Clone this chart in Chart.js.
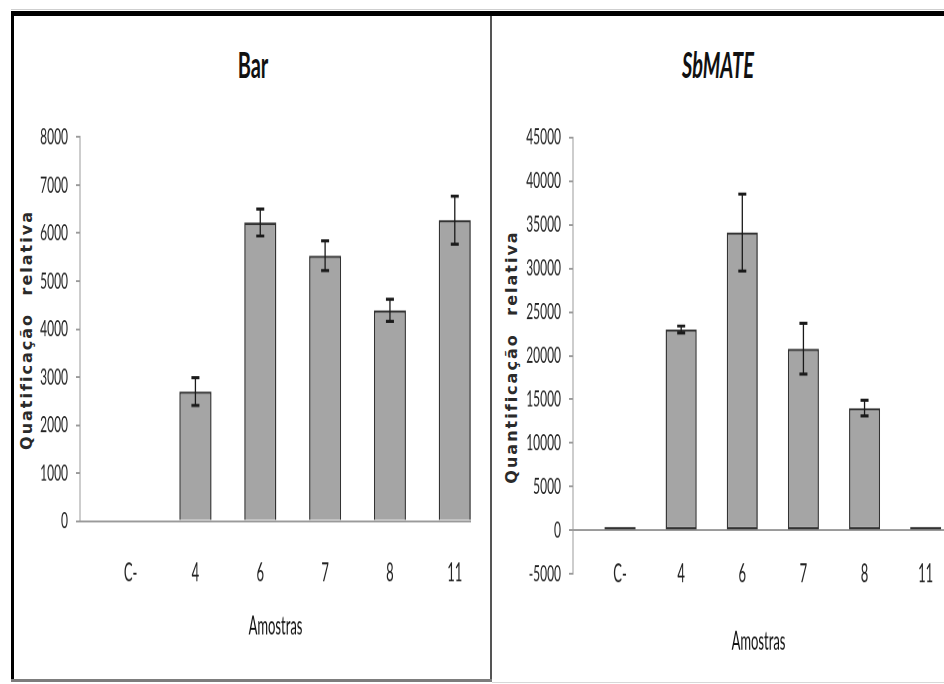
<!DOCTYPE html>
<html>
<head>
<meta charset="utf-8">
<script src="https://cdn.jsdelivr.net/npm/chart.js@4.4.1/dist/chart.umd.min.js"></script>
<style>
  html, body { margin: 0; padding: 0; background: #fff; }
  #page { position: relative; width: 944px; height: 684px; overflow: hidden; background: #fff; }
  .line { position: absolute; }
  .panel { position: absolute; top: 17px; transform: scaleY(1.9); transform-origin: 0 0; }
  .title { position: absolute; font-family: Lato, 'DejaVu Sans', sans-serif; font-weight: 700; font-size: 20px; color: #111;
           transform: translate(-50%, -50%) scaleY(1.85); white-space: nowrap; }
  .ytitle { position: absolute; font-family: 'DejaVu Sans', sans-serif; font-weight: 700; font-size: 16px; color: #2a2a2a;
            letter-spacing: 2px; word-spacing: 10px; white-space: nowrap; transform: translate(-50%, -50%) rotate(-90deg); }
</style>
</head>
<body>
<div id="page">
  <div class="line" style="left:11px;top:9px;width:933px;height:1px;background:#cfcfcf"></div>
  <div class="line" style="left:11px;top:11px;width:933px;height:5px;background:#000"></div>
  <div class="line" style="left:11px;top:11px;width:3px;height:671px;background:#000"></div>
  <div class="line" style="left:490px;top:16px;width:2px;height:666px;background:#555"></div>
  <div class="line" style="left:11px;top:679px;width:481px;height:3px;background:#7d7d7d"></div>
  <div class="line" style="left:492px;top:682px;width:452px;height:1px;background:#d8d8d8"></div>

  <div class="title" style="left:253px;top:63px">Bar</div>
  <div class="title" style="left:718px;top:63px;font-style:italic">SbMATE</div>
  <div class="ytitle" style="left:26px;top:330px">Quatificação relativa</div>
  <div class="ytitle" style="left:511px;top:357px">Quantificação relativa</div>

  <div class="panel" style="left:14px;width:476px;height:348px"><canvas id="chart-bar" width="476" height="348"></canvas></div>
  <div class="panel" style="left:493px;width:451px;height:348px"><canvas id="chart-mate" width="451" height="348"></canvas></div>
</div>
<script>
// amostras (eixo x)
const categories = ['C-', '4', '6', '7', '8', '11'];

// Bar
const barValues = [0, 2700, 6220, 5530, 4390, 6270];
const barErrors = [0, 290, 280, 310, 230, 500];
const barTicks = { min: 0, max: 8000, step: 1000 };

// SbMATE
const mateValues = [400, 23000, 34100, 20800, 14000, 400];
const mateErrors = [0, 400, 4400, 2900, 900, 0];
const mateTicks = { min: -5000, max: 45000, step: 5000 };

const FONT = "Lato, 'DejaVu Sans', sans-serif";
const AXIS_GRAY = '#9a9a9a';

// barras de erro desenhadas com a escala y do gráfico
function errorBarsPlugin(errors) {
  return {
    id: 'errorBars',
    afterDatasetsDraw(chart) {
      const meta = chart.getDatasetMeta(0);
      const y = chart.scales.y;
      const ctx = chart.ctx;
      const data = chart.data.datasets[0].data;
      ctx.save();
      ctx.strokeStyle = '#1a1a1a';
      meta.data.forEach((bar, i) => {
        const e = errors[i];
        if (!e) return;
        const v = data[i].y;
        const top = y.getPixelForValue(v + e);
        const bot = y.getPixelForValue(v - e);
        ctx.lineWidth = 1.3;
        ctx.beginPath();
        ctx.moveTo(bar.x, top);
        ctx.lineTo(bar.x, bot);
        ctx.stroke();
        ctx.lineWidth = 1.6;
        ctx.beginPath();
        ctx.moveTo(bar.x - 4, top); ctx.lineTo(bar.x + 4, top);
        ctx.moveTo(bar.x - 4, bot); ctx.lineTo(bar.x + 4, bot);
        ctx.stroke();
      });
      ctx.restore();
    }
  };
}

function makeChart(id, values, errors, ticks, lay) {
  return new Chart(document.getElementById(id), {
    type: 'bar',
    data: {
      datasets: [{
        data: values.map((v, i) => ({ x: i, y: v })),
        backgroundColor: '#a5a5a5',
        borderColor: '#333',
        borderWidth: 1.3,
        borderSkipped: lay.skip,
        inflateAmount: 0,
        barThickness: lay.barW
      }]
    },
    options: {
      responsive: false,
      animation: false,
      devicePixelRatio: 2,
      layout: { padding: { top: lay.top, right: lay.right, left: 0, bottom: lay.bottom } },
      plugins: { legend: { display: false }, tooltip: { enabled: false } },
      scales: {
        x: {
          type: 'linear',
          position: lay.xPos,
          offset: false,
          min: lay.xMin, max: lay.xMax,
          afterFit: s => { s.height = lay.xH; },
          grid: { display: false, drawTicks: false, offset: false },
          border: { display: false },
          ticks: {
            stepSize: 1, includeBounds: false, padding: lay.xPad,
            color: '#222', font: { family: FONT, size: 13 },
            callback: v => categories[v] ?? ''
          },
          title: {
            display: true, text: 'Amostras', color: '#111',
            font: { family: FONT, size: 13 },
            padding: { top: 0, bottom: lay.tPad }
          }
        },
        y: {
          min: ticks.min, max: ticks.max,
          afterFit: s => { s.width = lay.yW; },
          ticks: {
            stepSize: ticks.step, padding: 8, color: '#222',
            font: { family: FONT, size: 12 },
            callback: v => String(v)
          },
          grid: {
            color: c => (c.tick && c.tick.value === 0 ? AXIS_GRAY : 'rgba(0,0,0,0)'),
            tickColor: AXIS_GRAY, tickLength: 4, lineWidth: 1
          },
          border: { display: true, color: AXIS_GRAY, width: 1 }
        }
      }
    },
    plugins: [errorBarsPlugin(errors)]
  });
}

makeChart('chart-bar', barValues, barErrors, barTicks,
  { top: 63.2, right: 19, bottom: 0, xPos: 'bottom', xMin: -0.78, xMax: 5.25, xH: 82.7, xPad: 19.5, tPad: 19.2, yW: 66, barW: 32, skip: 'start' });
// eixo x do SbMATE: rótulos na altura de -5000, como no original
makeChart('chart-mate', mateValues, mateErrors, mateTicks,
  { top: 63.3, right: 0, bottom: 54.8, xPos: { y: mateTicks.min }, xMin: -0.77, xMax: 5.3, xH: 54.8, xPad: -7.8, tPad: 11.2, yW: 80, barW: 31, skip: false });
</script>
</body>
</html>
